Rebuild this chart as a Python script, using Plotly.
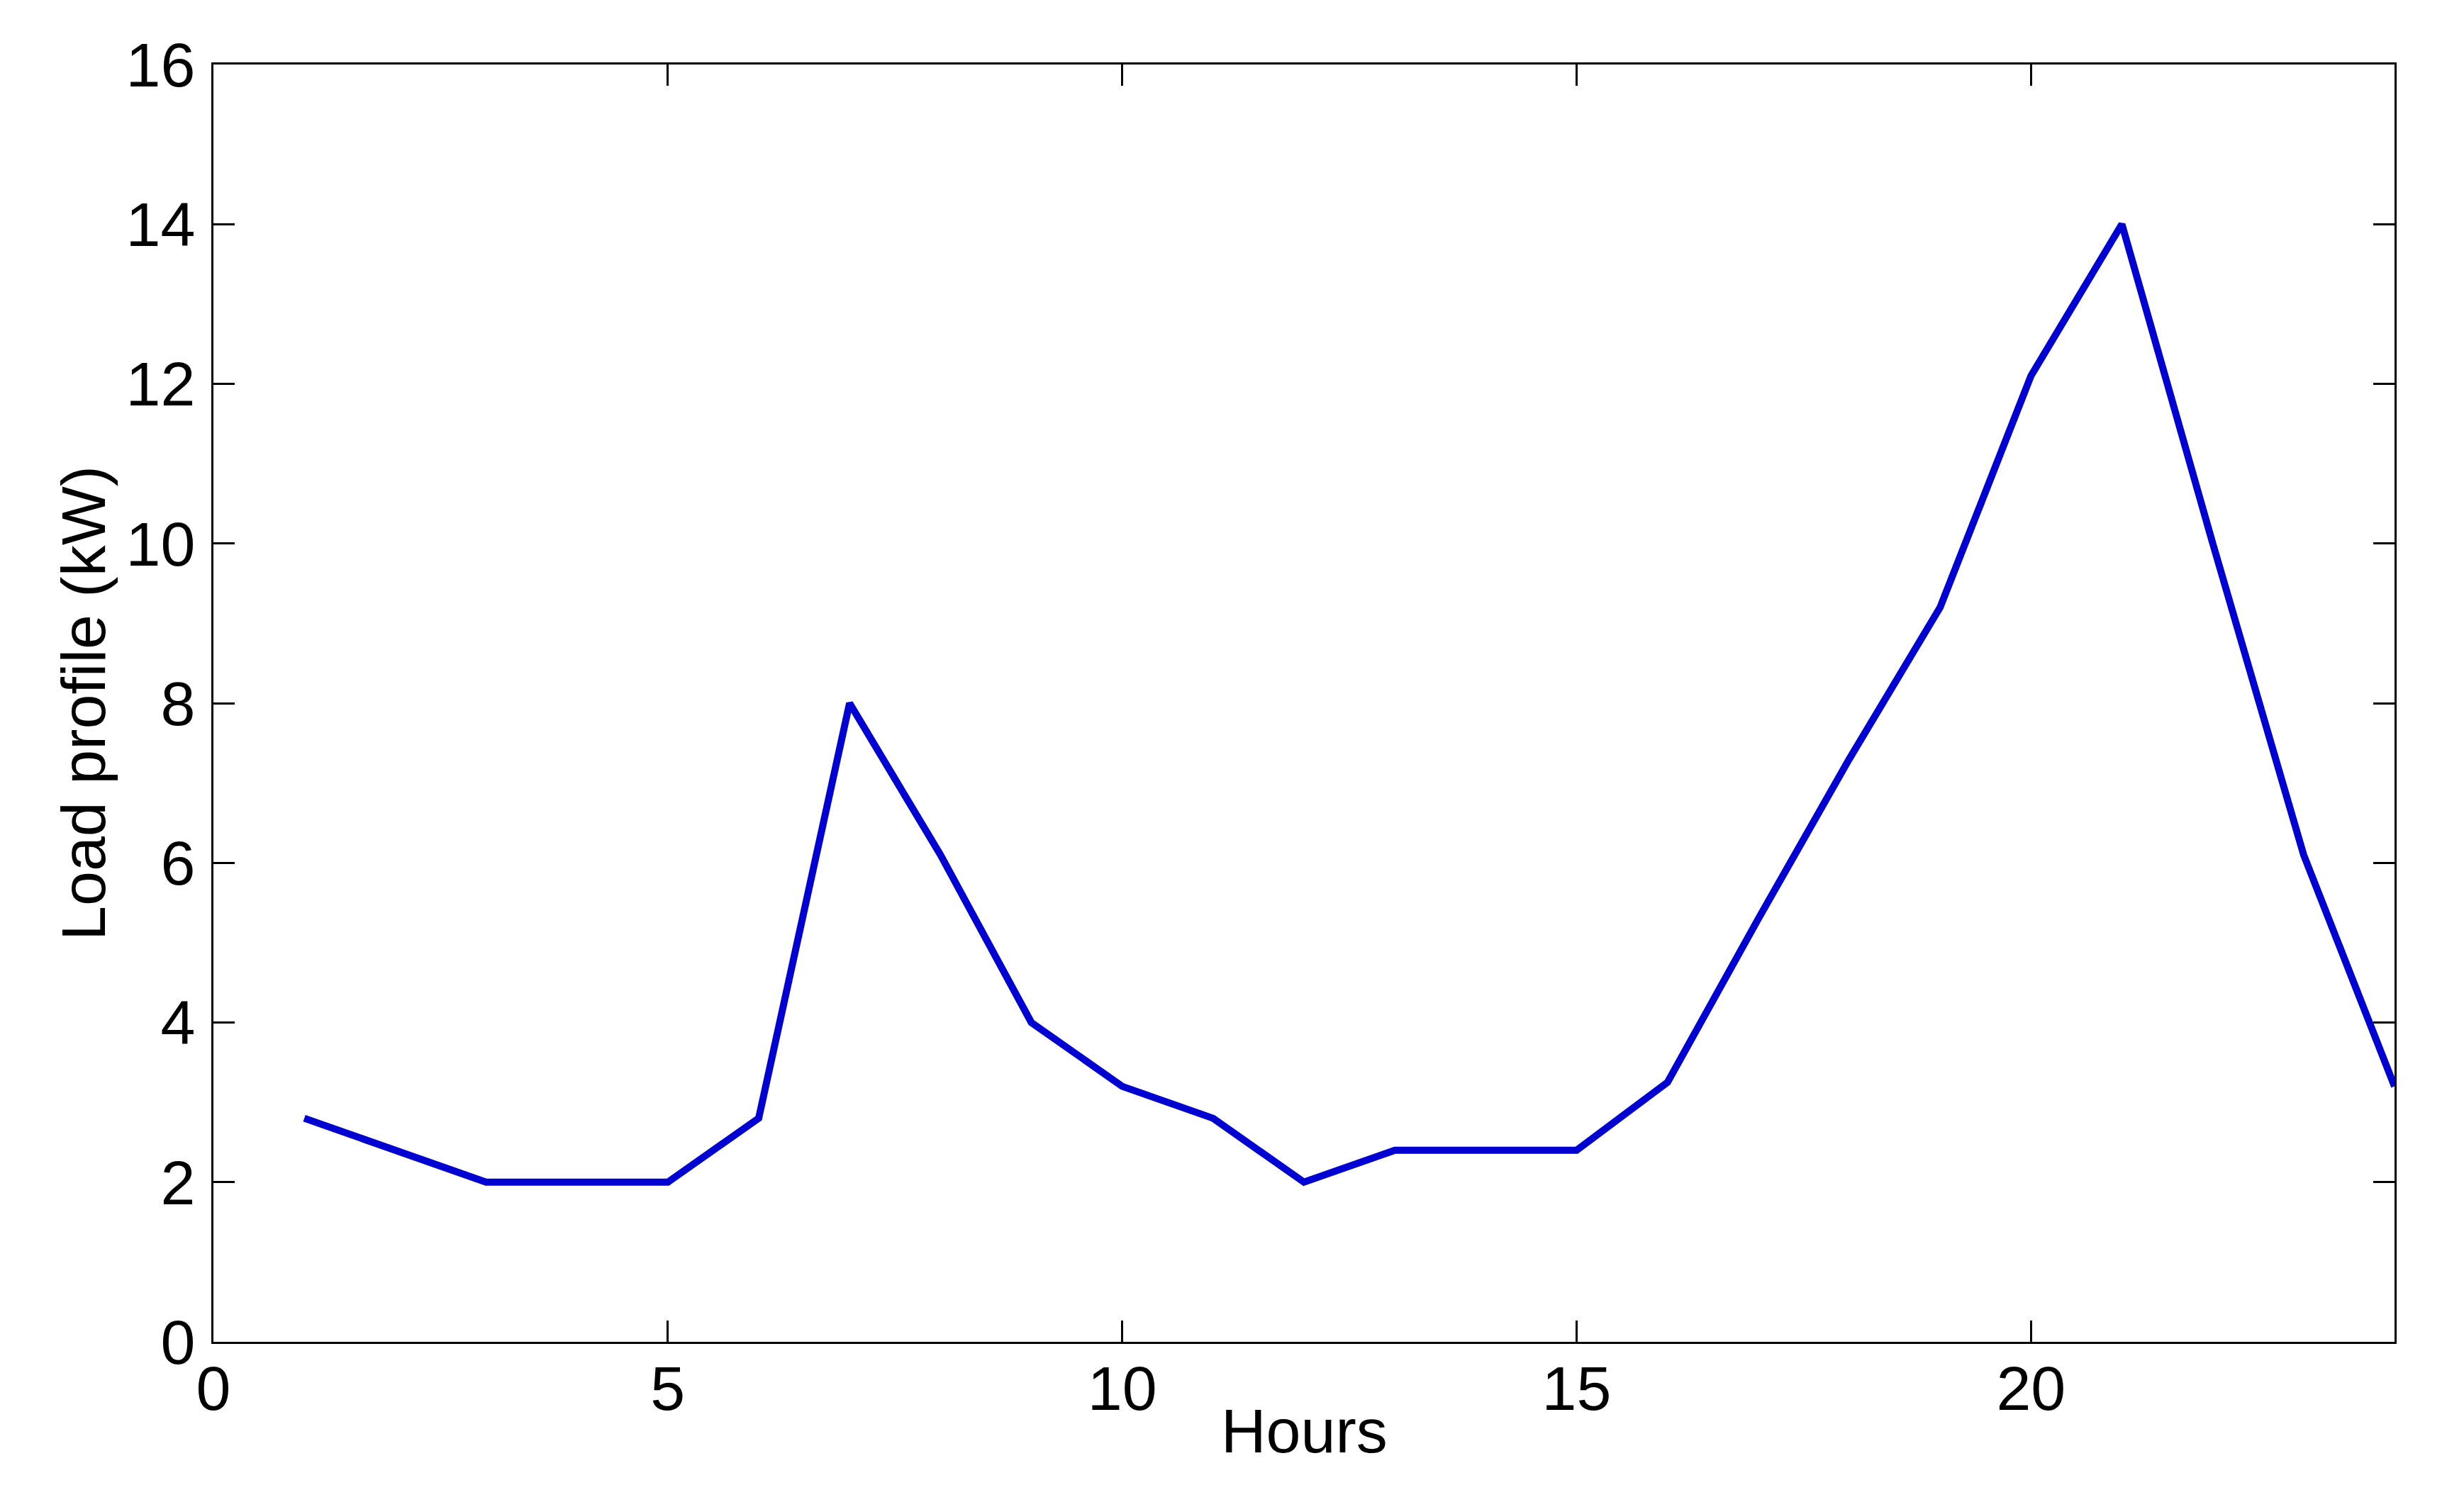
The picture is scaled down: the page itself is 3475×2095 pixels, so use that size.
import plotly.graph_objects as go

hours = list(range(1, 25))
load_kw = [2.8, 2.4, 2.0, 2.0, 2.0, 2.8, 8.0, 6.1, 4.0, 3.2, 2.8, 2.0,
           2.4, 2.4, 2.4, 3.25, 5.3, 7.3, 9.2, 12.1, 14.0, 10.0, 6.1, 3.2]

x_ticks = [0, 5, 10, 15, 20]
y_ticks = [0, 2, 4, 6, 8, 10, 12, 14, 16]

FONT = "Liberation Sans, Arial, Helvetica, sans-serif"

fig = go.Figure()
fig.add_trace(go.Scatter(
    x=hours, y=load_kw, mode="lines",
    line=dict(color="rgb(0,0,210)", width=10),
    showlegend=False,
))

axis_common = dict(
    showgrid=False, zeroline=False,
    showline=True, linecolor="black", linewidth=3, mirror="allticks",
    ticks="inside", ticklen=30, tickwidth=3, tickcolor="black",
    tickfont=dict(family=FONT, size=88, color="black"),
)

fig.update_layout(
    width=3475, height=2095,
    margin=dict(l=293, r=106, t=83, b=210, autoexpand=False),
    paper_bgcolor="white", plot_bgcolor="white",
    xaxis=dict(range=[0, 24], tickvals=x_ticks, ticktext=[str(v) for v in x_ticks],
               ticklabelstandoff=-13, automargin=False, **axis_common),
    yaxis=dict(range=[0, 16], tickvals=y_ticks, ticktext=[str(v) for v in y_ticks],
               ticklabelstandoff=5,
               title=dict(text="Load profile (kW)", font=dict(family=FONT, size=88, color="black"), standoff=0),
               automargin=False, **axis_common),
    annotations=[dict(
        text="Hours", xref="paper", yref="paper", x=0.5, y=0,
        xanchor="center", yanchor="top", yshift=-74, showarrow=False,
        font=dict(family=FONT, size=88, color="black"),
    )],
)

fig.write_html("out.html")
